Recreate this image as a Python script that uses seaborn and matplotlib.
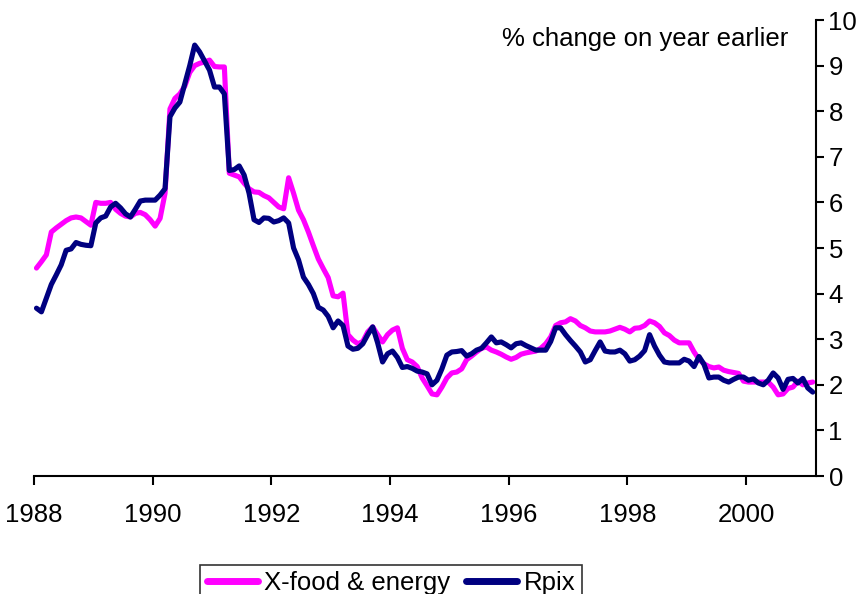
import numpy as np
import pandas as pd
import matplotlib
matplotlib.use("Agg")
import matplotlib.pyplot as plt
import seaborn as sns

# Monthly inflation rates, % change on a year earlier, Jan 1988 - Feb 2001
x_food_energy = [
    4.56, 4.70, 4.85, 5.35, 5.44, 5.52, 5.60, 5.66, 5.68, 5.66, 5.58, 5.50,  # 1988
    6.00, 5.98, 5.98, 6.00, 5.85, 5.76, 5.70, 5.68, 5.76, 5.78, 5.73, 5.62,  # 1989
    5.48, 5.65, 6.20, 8.05, 8.28, 8.38, 8.55, 8.85, 9.00, 9.05, 9.08, 9.12,  # 1990
    8.98, 8.97, 8.97, 6.64, 6.60, 6.56, 6.42, 6.30, 6.23, 6.22, 6.15, 6.10,  # 1991
    6.00, 5.90, 5.86, 6.54, 6.20, 5.83, 5.62, 5.35, 5.05, 4.76, 4.55, 4.35,  # 1992
    3.95, 3.93, 4.01, 3.10, 2.98, 2.90, 2.95, 3.16, 3.27, 3.10, 2.94, 3.10,  # 1993
    3.20, 3.25, 2.80, 2.55, 2.50, 2.40, 2.15, 1.98, 1.80, 1.78, 1.95, 2.15,  # 1994
    2.26, 2.28, 2.35, 2.55, 2.63, 2.72, 2.80, 2.83, 2.76, 2.72, 2.67, 2.61,  # 1995
    2.56, 2.60, 2.67, 2.70, 2.72, 2.74, 2.80, 2.90, 3.05, 3.30, 3.36, 3.38,  # 1996
    3.45, 3.40, 3.30, 3.25, 3.18, 3.16, 3.16, 3.16, 3.18, 3.22, 3.26, 3.22,  # 1997
    3.16, 3.24, 3.25, 3.30, 3.40, 3.36, 3.28, 3.14, 3.08, 2.98, 2.92, 2.92,  # 1998
    2.92, 2.72, 2.56, 2.46, 2.40, 2.37, 2.39, 2.32, 2.29, 2.27, 2.25, 2.08,  # 1999
    2.06, 2.06, 2.06, 2.06, 2.06, 1.95, 1.78, 1.80, 1.92, 1.95, 2.08, 2.00,  # 2000
    2.04, 2.06,                                                              # 2001
]
rpix = [
    3.68, 3.60, 3.90, 4.20, 4.41, 4.63, 4.95, 4.98, 5.12, 5.08, 5.06, 5.05,  # 1988
    5.55, 5.66, 5.70, 5.90, 5.98, 5.88, 5.75, 5.68, 5.85, 6.03, 6.05, 6.05,  # 1989
    6.05, 6.16, 6.30, 7.88, 8.07, 8.20, 8.60, 9.00, 9.45, 9.30, 9.10, 8.90,  # 1990
    8.53, 8.53, 8.38, 6.70, 6.72, 6.80, 6.60, 6.20, 5.62, 5.56, 5.66, 5.65,  # 1991
    5.57, 5.60, 5.66, 5.55, 5.00, 4.74, 4.36, 4.20, 4.00, 3.70, 3.64, 3.50,  # 1992
    3.25, 3.40, 3.30, 2.85, 2.78, 2.80, 2.90, 3.10, 3.27, 2.92, 2.50, 2.68,  # 1993
    2.74, 2.60, 2.38, 2.40, 2.36, 2.30, 2.28, 2.24, 2.00, 2.10, 2.35, 2.65,  # 1994
    2.72, 2.73, 2.75, 2.63, 2.68, 2.76, 2.80, 2.92, 3.05, 2.92, 2.94, 2.88,  # 1995
    2.81, 2.90, 2.92, 2.86, 2.81, 2.76, 2.76, 2.76, 2.95, 3.25, 3.25, 3.10,  # 1996
    2.97, 2.85, 2.72, 2.50, 2.55, 2.75, 2.94, 2.74, 2.72, 2.72, 2.76, 2.68,  # 1997
    2.52, 2.55, 2.63, 2.75, 3.10, 2.85, 2.65, 2.50, 2.48, 2.48, 2.48, 2.56,  # 1998
    2.52, 2.40, 2.62, 2.45, 2.15, 2.17, 2.17, 2.10, 2.06, 2.12, 2.17, 2.17,  # 1999
    2.10, 2.13, 2.04, 2.00, 2.10, 2.26, 2.15, 1.90, 2.12, 2.14, 2.04, 2.14,  # 2000
    1.93, 1.84,                                                              # 2001
]
series_names = ["X-food & energy", "Rpix"]
series_colors = ["#FF00FF", "#000080"]
x_ticks = [1988, 1990, 1992, 1994, 1996, 1998, 2000]
y_ticks = list(range(0, 11))

# decimal year for each monthly observation (mid-month)
months = np.arange(len(rpix))
years = 1988 + (months + 0.5) / 12

df = pd.concat([
    pd.DataFrame({"year": years, "value": x_food_energy, "series": series_names[0]}),
    pd.DataFrame({"year": years, "value": rpix, "series": series_names[1]}),
])

sns.set_style("white")
plt.rcParams["font.family"] = ["Liberation Sans", "DejaVu Sans"]
plt.rcParams["text.color"] = "black"
plt.rcParams["xtick.color"] = "black"
plt.rcParams["ytick.color"] = "black"
FS = 18.5

fig = plt.figure(figsize=(8.66, 5.94), dpi=100)
ax = fig.add_axes([34 / 866, 1 - 476 / 594, 782 / 866, 456 / 594])

sns.lineplot(
    data=df, x="year", y="value", hue="series",
    palette=dict(zip(series_names, series_colors)),
    linewidth=3.7, ax=ax, legend=False,
)

ax.set_xlim(1988, 2001.18)
ax.set_ylim(0, 10)
ax.set_xticks(x_ticks)
ax.set_xticklabels([str(t) for t in x_ticks])
ax.set_yticks(y_ticks)
ax.yaxis.tick_right()
ax.set_xlabel("")
ax.set_ylabel("")

for side in ["left", "top"]:
    ax.spines[side].set_visible(False)
for side in ["bottom", "right"]:
    ax.spines[side].set_color("black")
    ax.spines[side].set_linewidth(1.5)

ax.tick_params(axis="x", direction="out", length=6.5, width=1.5, colors="black",
               labelsize=FS, pad=13, bottom=True)
ax.tick_params(axis="y", direction="out", length=6, width=1.5, colors="black",
               labelsize=FS, pad=3, right=True, left=False)

ax.text(0.964, 0.959, "% change on year earlier", transform=ax.transAxes,
        ha="right", va="center", fontsize=FS, color="black")

# legend sits below the plot, partly cut off by the figure edge
handles = [plt.Line2D([], [], color=c, linewidth=5) for c in series_colors]
leg = fig.legend(handles, series_names, loc="upper center",
                 bbox_to_anchor=(391 / 866, 1 - 565 / 594), ncol=2,
                 fontsize=FS, frameon=True, fancybox=False, handlelength=2.0,
                 handletextpad=0.25, columnspacing=0.6, borderpad=0.25,
                 borderaxespad=0)
leg.get_frame().set_edgecolor("black")
leg.get_frame().set_linewidth(1.2)
for t in leg.get_texts():
    t.set_color("black")

fig.savefig("out.png", dpi=100)
